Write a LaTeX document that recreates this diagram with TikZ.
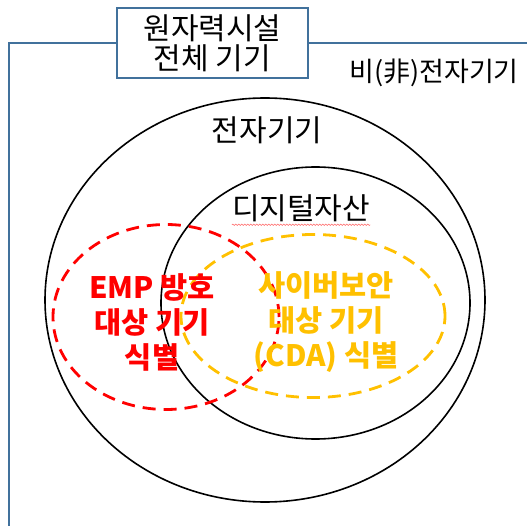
\documentclass[tikz,border=0pt]{standalone}
\usepackage{fontspec}
\setmainfont{Noto Sans CJK KR}
\usepackage{tikz}
\usetikzlibrary{shapes.geometric, decorations.pathmorphing}
\definecolor{frameblue}{RGB}{65,113,156}
\definecolor{cdagold}{RGB}{255,192,0}
\tikzset{
  setline/.style={ellipse, draw, line width=1.6pt},
  dashset/.style={ellipse, draw=#1, line width=2.8pt, dash pattern=on 13pt off 8pt},
  label/.style={font=\fontsize{30}{30}\selectfont, inner sep=0pt},
  boldlabel/.style={font=\fontsize{29.5}{35}\selectfont\bfseries, text=#1, align=center, inner sep=0pt}
}
\begin{document}
\begin{tikzpicture}[x=1pt, y=-1pt]
        \useasboundingbox (0,0) rectangle (527,526);
        % outer frame of all equipment
        \coordinate (fb) at (9,526);
        \coordinate (fc) at (9,43);
        \coordinate (fr) at (527,43);
        \draw[frameblue, line width=2.6pt] (fb) -- (fc) -- (fr);
        \node[draw=frameblue, line width=2.6pt, fill=white, minimum width=191pt, minimum height=70pt,
              label, align=center] at (212.5,43) (all) {원자력시설\\전체 기기};
        \node[label, font=\fontsize{27}{30}\selectfont] at (434,73) (nonelec) {비(非)전자기기};

        % sets
        \node[setline, minimum width=440pt, minimum height=404pt] at (265,300) (elec) {};
        \node[setline, minimum width=309pt, minimum height=272pt] at (315.5,303) (digital) {};
        \node[dashset=red, minimum width=226pt, minimum height=185pt] at (166,317) (emp) {};
        \node[dashset=cdagold, minimum width=264pt, minimum height=163pt] at (313,316) (cda) {};

        % labels
        \node[label] at (267,130) (elecname) {전자기기};
        \node[label] at (301,208) (digitalname) {디지털자산};
        \draw[red!60, line width=0.5pt, decorate, decoration={snake, amplitude=0.7pt, segment length=3pt}]
             ([yshift=-3pt]digitalname.south west) -- ([yshift=-3pt]digitalname.south east);
        \node[boldlabel=red] at (152,322) (empname) {EMP 방호\\대상 기기\\식별};
        \node[boldlabel=cdagold] at (326,322) (cdaname) {사이버보안\\대상 기기\\(CDA) 식별};
\end{tikzpicture}
\end{document}
